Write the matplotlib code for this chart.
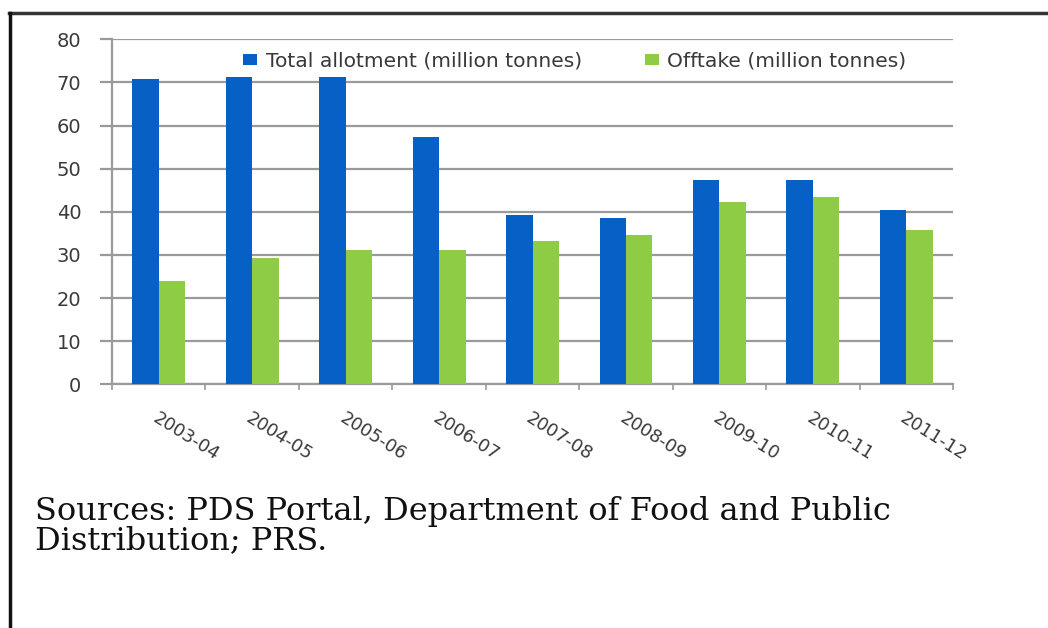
import matplotlib.pyplot as plt
import numpy as np
from matplotlib.lines import Line2D

# values
years = ['2003-04', '2004-05', '2005-06', '2006-07', '2007-08',
         '2008-09', '2009-10', '2010-11', '2011-12']
total_allotment = [70.9, 71.3, 71.3, 57.4, 39.3, 38.6, 47.3, 47.3, 40.5]
offtake = [24.0, 29.3, 31.1, 31.1, 33.3, 34.7, 42.3, 43.5, 35.8]
y_ticks = [0, 10, 20, 30, 40, 50, 60, 70, 80]

blue = '#0660c6'
green = '#8fcc45'
grid_gray = '#9a9a9a'
label_gray = '#3a3a3a'

fig = plt.figure(figsize=(10.48, 6.28), dpi=100)
ax = fig.add_axes([0.1069, 0.388, 0.8025, 0.5494])

x = np.arange(len(years))
w = 0.283
ax.bar(x - w / 2, total_allotment, w, color=blue, label='Total allotment (million tonnes)', zorder=3)
ax.bar(x + w / 2, offtake, w, color=green, label='Offtake (million tonnes)', zorder=3)

ax.set_xlim(-0.5, len(years) - 0.5)
ax.set_ylim(0, 80)
ax.set_yticks(y_ticks)
ax.yaxis.grid(True, color=grid_gray, linewidth=1.6, zorder=0)
ax.tick_params(axis='y', length=9, width=1.6, color=grid_gray, pad=13,
               labelsize=14, labelcolor=label_gray)

# category labels at centres, small ticks at the boundaries
ax.set_xticks(x)
ax.set_xticklabels(years, rotation=-32, ha='left', va='top', rotation_mode='anchor',
                   fontsize=13, color=label_gray)
ax.tick_params(axis='x', length=0, pad=18)
ax.set_xticks(np.arange(len(years) + 1) - 0.5, minor=True)
ax.tick_params(axis='x', which='minor', length=4, width=1.2, color=grid_gray)

for s in ['top', 'right']:
    ax.spines[s].set_visible(False)
for s in ['left', 'bottom']:
    ax.spines[s].set_color(grid_gray)
    ax.spines[s].set_linewidth(1.6)

ax.legend(loc='center', bbox_to_anchor=(0.55, 0.937), ncol=2, frameon=False,
          fontsize=14.6, handlelength=0.72, handleheight=0.5, handletextpad=0.4,
          columnspacing=3.1, labelcolor=label_gray)

fig.text(0.033, 1 - 549 / 628, 'Sources: PDS Portal, Department of Food and Public\nDistribution; PRS.',
         family='DejaVu Serif', fontsize=23, color='#111111', linespacing=0.92,
         ha='left', va='baseline')

# page frame around the pasted figure
fig.add_artist(Line2D([0.009, 1.0], [0.979, 0.979], color='#333333', linewidth=2.5))
fig.add_artist(Line2D([0.010, 0.010], [0.0, 0.979], color='#111111', linewidth=2.5))

fig.savefig('out.png', dpi=100)
